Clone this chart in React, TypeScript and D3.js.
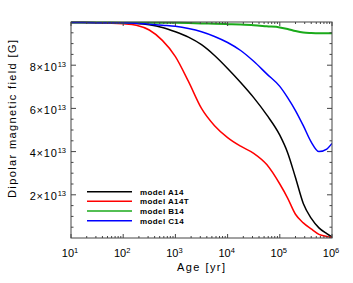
import * as d3 from 'd3';
import React from 'react';

// age grid [yr], shared by all models
const ages = [10, 32, 100, 178, 316, 562, 1000, 1778, 3162, 5623, 10000, 17783, 31623, 56234, 100000, 141254, 199526, 281838, 398107, 562341, 794328, 1000000];

// dipolar field in units of 1e13 G
const bA14 = [9.98, 9.97, 9.95, 9.93, 9.87, 9.75, 9.55, 9.3, 8.95, 8.45, 7.85, 7.2, 6.5, 5.7, 4.76, 3.95, 2.8, 1.6, 0.92, 0.47, 0.2, 0.05];
const bA14T = [9.98, 9.97, 9.92, 9.85, 9.63, 9.15, 8.4, 7.25, 6.0, 5.2, 4.65, 4.25, 3.92, 3.4, 2.5, 1.85, 1.1, 0.7, 0.42, 0.17, 0.07, 0.02];
const bB14 = [9.98, 9.98, 9.97, 9.97, 9.96, 9.96, 9.96, 9.95, 9.93, 9.92, 9.9, 9.88, 9.85, 9.8, 9.75, 9.68, 9.58, 9.51, 9.49, 9.48, 9.48, 9.48];
const bC14 = [9.98, 9.97, 9.96, 9.94, 9.9, 9.85, 9.8, 9.7, 9.55, 9.33, 9.05, 8.68, 8.18, 7.6, 7.02, 6.5, 5.9, 5.2, 4.45, 4.0, 4.12, 4.38];

const models = [
  { name: 'model A14', color: '#000000', b: bA14, w: 1.5 },
  { name: 'model A14T', color: '#ff0000', b: bA14T, w: 1.5 },
  { name: 'model B14', color: '#1aaa1a', b: bB14, w: 2 },
  { name: 'model C14', color: '#0000ff', b: bC14, w: 1.5 },
];

const xMajor = [1, 2, 3, 4, 5, 6];
const yLabels = [2, 4, 6, 8];

const App: React.FC = () => {
  const W = 353;
  const H = 283;
  const left = 71, right = 332, top = 22, bottom = 238;

  const x = d3.scaleLog().domain([10, 1e6]).range([left, right]);
  const y = d3.scaleLinear().domain([0, 10]).range([bottom, top]);

  const line = d3
    .line<[number, number]>()
    .x((d) => x(d[0]))
    .y((d) => y(d[1]))
    .curve(d3.curveMonotoneX);

  const xMinor: number[] = [];
  for (let e = 1; e < 6; e++) {
    for (let k = 2; k <= 9; k++) xMinor.push(k * Math.pow(10, e));
  }
  const yMinor: number[] = [];
  for (let v = 0.5; v < 10; v += 0.5) {
    if (!yLabels.includes(v)) yMinor.push(v);
  }

  const axisColor = '#444';
  const font = 'Liberation Sans, Arial, Helvetica, sans-serif';

  return (
    <svg width={W} height={H} style={{ position: 'absolute', left: 0, top: 0, background: '#fff' }}>
      <rect x={0} y={0} width={W} height={H} fill="#fff" />
      <defs>
        <clipPath id="clip">
          <rect x={left} y={top - 1} width={right - left} height={bottom - top + 1} />
        </clipPath>
      </defs>
      <g clipPath="url(#clip)">
        {models.map((m) => (
          <path
            key={m.name}
            d={line(ages.map((a, i) => [a, m.b[i]] as [number, number])) || ''}
            fill="none"
            stroke={m.color}
            strokeWidth={m.w}
          />
        ))}
      </g>

      {/* frame */}
      <rect x={left} y={top} width={right - left} height={bottom - top} fill="none" stroke={axisColor} strokeWidth={1} />

      {/* x ticks bottom & top */}
      {xMajor.map((e) => {
        const px = x(Math.pow(10, e));
        return (
          <g key={'xm' + e}>
            <line x1={px} x2={px} y1={bottom} y2={bottom - 4} stroke={axisColor} />
            <line x1={px} x2={px} y1={top} y2={top + 4} stroke={axisColor} />
            <text x={px - 1} y={256.5} fontFamily={font} fontSize={11} textAnchor="middle" fill="#000">
              10
              <tspan dy={-4} fontSize={7.5}>
                {e}
              </tspan>
            </text>
          </g>
        );
      })}
      {xMinor.map((v) => {
        const px = x(v);
        return (
          <g key={'xn' + v}>
            <line x1={px} x2={px} y1={bottom} y2={bottom - 2} stroke={axisColor} />
            <line x1={px} x2={px} y1={top} y2={top + 2} stroke={axisColor} />
          </g>
        );
      })}

      {/* y ticks left & right */}
      {yLabels.map((v) => {
        const py = y(v);
        return (
          <g key={'ym' + v}>
            <line x1={left} x2={left + 5} y1={py} y2={py} stroke={axisColor} />
            <line x1={right} x2={right - 5} y1={py} y2={py} stroke={axisColor} />
            <text x={66} y={py + 5.5} fontFamily={font} fontSize={11} textAnchor="end" fill="#000" letterSpacing={0.8}>
              {v}×10
              <tspan dy={-4} fontSize={7.5} letterSpacing={0}>
                13
              </tspan>
            </text>
          </g>
        );
      })}
      {yMinor.map((v) => {
        const py = y(v);
        return (
          <g key={'yn' + v}>
            <line x1={left} x2={left + 2.5} y1={py} y2={py} stroke={axisColor} />
            <line x1={right} x2={right - 2.5} y1={py} y2={py} stroke={axisColor} />
          </g>
        );
      })}

      {/* axis titles */}
      <text x={201} y={271} fontFamily={font} fontSize={11} textAnchor="middle" textLength={48} lengthAdjust="spacing">
        Age [yr]
      </text>
      <text
        transform="translate(16,119) rotate(-90)"
        fontFamily={font}
        fontSize={11}
        textAnchor="middle"
        textLength={158}
        lengthAdjust="spacing"
      >
        Dipolar magnetic field [G]
      </text>

      {/* legend */}
      {models.map((m, i) => {
        const ly = 191.7 + i * 9.67;
        return (
          <g key={'lg' + m.name}>
            <line x1={87} x2={132} y1={ly} y2={ly} stroke={m.color} strokeWidth={1.5} />
            <text x={140} y={ly + 3} fontFamily={font} fontSize={8} fontWeight="bold" letterSpacing={0.4}>
              {m.name}
            </text>
          </g>
        );
      })}
    </svg>
  );
};

export default App;
